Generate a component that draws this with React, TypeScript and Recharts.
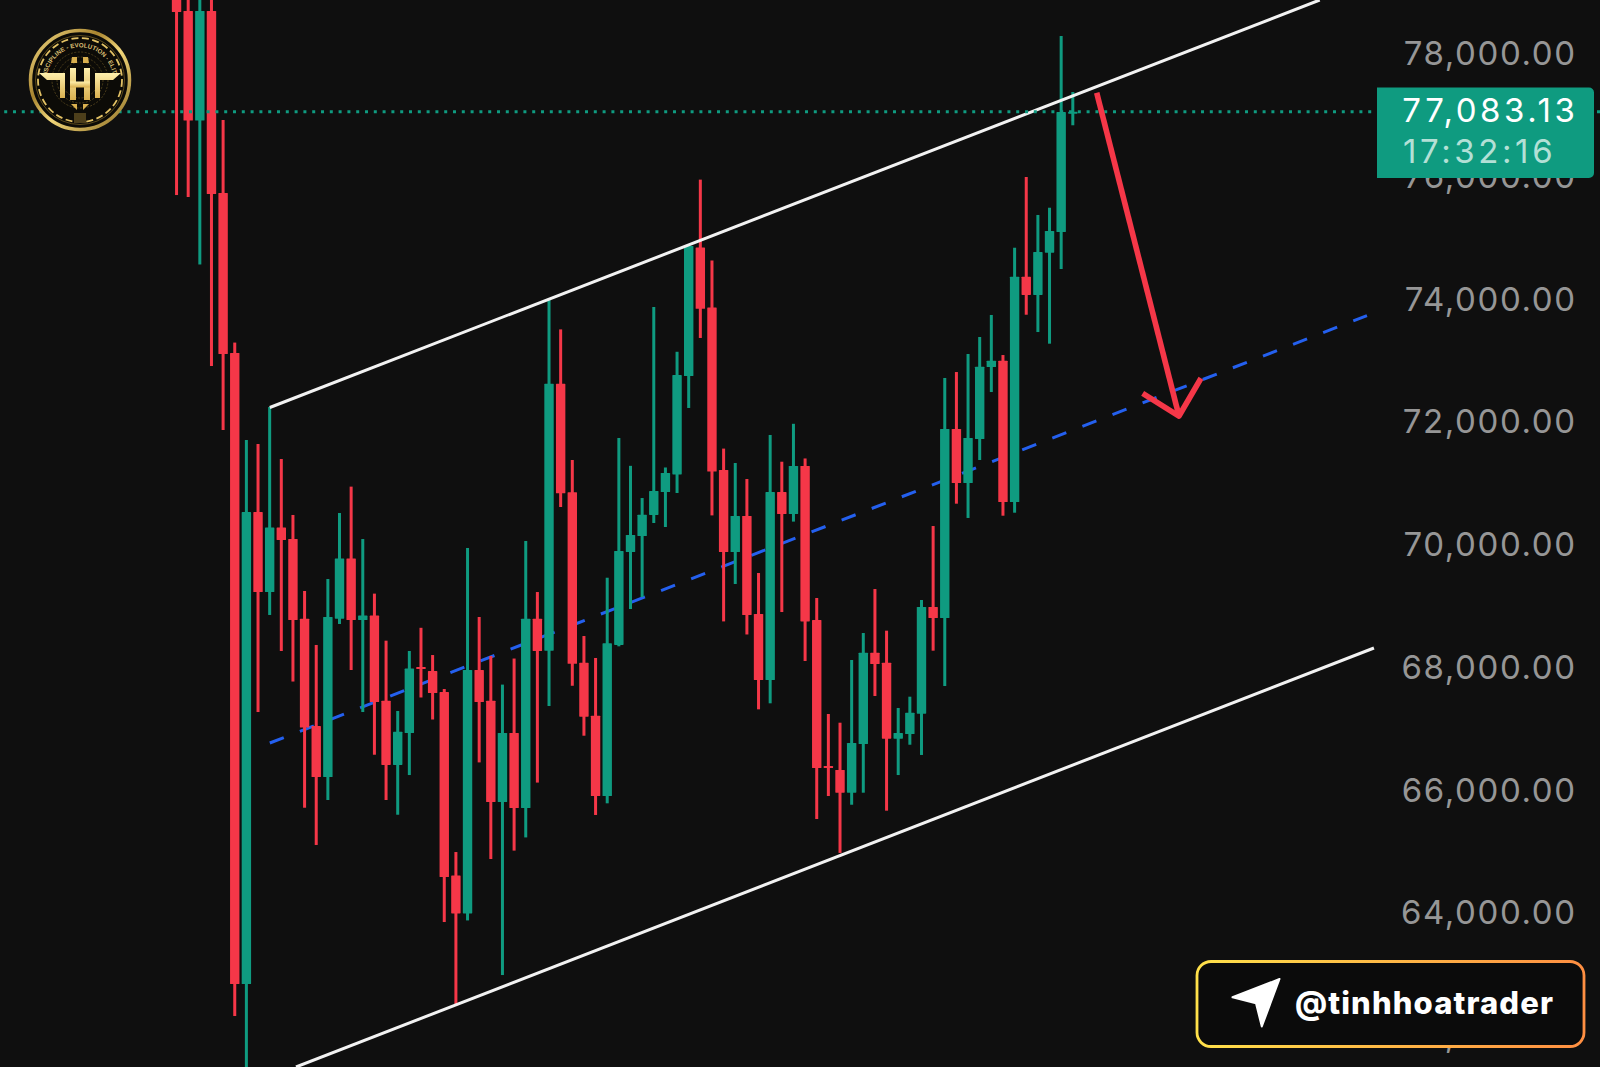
import React from 'react';
import { ComposedChart, Bar, Line, XAxis, YAxis, ReferenceLine } from 'recharts';

const opens = [
  78985, 78724, 76939, 78724, 75757, 73149, 62864, 70557, 69253, 70305,
  70117, 68818, 67069, 66238, 68818, 69801, 68797, 68869, 67481, 66434,
  66955, 68031, 67965, 67623, 64634, 64015, 67982, 67481, 65830, 66955,
  65733, 68818, 68297, 72647, 70879, 68099, 67237, 65928, 68390, 69905,
  70166, 70509, 70883, 71170, 72774, 74869, 73892, 71242, 69905, 70492,
  68895, 67819, 70883, 70525, 71307, 68797, 66417, 66352, 65982, 66776,
  68264, 68101, 66862, 66939, 67270, 69009, 68830, 71910, 71030, 71747,
  72921, 73024, 70720, 74393, 74095, 74784, 75121, 77060,
];
const closes = [
  78707, 76939, 78724, 75741, 73133, 62864, 70557, 69253, 70305, 70101,
  68797, 67045, 66238, 68846, 69801, 68797, 68869, 67460, 66434, 66976,
  68005, 67998, 67607, 64608, 64015, 67982, 67460, 65830, 66955, 65733,
  68818, 68292, 72647, 70862, 68083, 67221, 65928, 68417, 69922, 70183,
  70513, 70900, 71193, 72790, 74893, 73870, 71216, 69905, 70492, 68878,
  67819, 70883, 70525, 71307, 68774, 66385, 66393, 65982, 66792, 68264,
  68080, 66862, 66955, 67286, 69009, 68830, 71910, 71030, 71764, 72926,
  73024, 70720, 74393, 74095, 74795, 75138, 77077, 77083,
];
const highs = [
  79229, 79229, 79229, 79229, 76947, 73319, 71731, 71666, 72269, 71421,
  70509, 69270, 68390, 69465, 70541, 70971, 70117, 69227, 68460, 67314,
  68292, 68670, 68226, 67672, 65015, 69971, 68846, 68210, 67744, 68169,
  70085, 69253, 74033, 73534, 71405, 68536, 68178, 69486, 71764, 71310,
  70785, 73899, 71283, 73169, 74893, 75975, 74657, 71591, 71356, 71095,
  69563, 71813, 71377, 71995, 71430, 69156, 67265, 67123, 68145, 68585,
  69302, 68623, 67363, 67547, 69123, 70329, 72742, 72839, 73133, 73410,
  73769, 73116, 74865, 76018, 75399, 75517, 78316, 77403,
];
const lows = [
  75724, 75692, 74592, 72937, 71894, 62342, 61217, 67297, 68879, 68292,
  67794, 65737, 65130, 65863, 68732, 67982, 67297, 66601, 65863, 65623,
  66270, 67534, 67175, 63874, 62513, 63900, 66476, 64901, 63010, 65038,
  65253, 66147, 67395, 70639, 67725, 66911, 65619, 65809, 68368, 68976,
  69172, 70378, 70313, 70867, 72253, 73394, 70502, 68774, 69384, 68561,
  67341, 67439, 68927, 70401, 68129, 65553, 65928, 65000, 65786, 65982,
  67558, 65689, 66270, 66764, 66597, 68297, 67721, 70693, 70460, 71405,
  72513, 70497, 70546, 73773, 73491, 73301, 74518, 76861,
];

const priceTicks = [62000, 64000, 66000, 68000, 70000, 72000, 74000, 76000, 78000];
const lastPrice = 77083.13;
const upperChannel = [{ i: 8, p: 72261 }, { i: 98.2, p: 78903 }];
const lowerChannel = [{ i: 10.25, p: 61511 }, { i: 102.86, p: 68341 }];
const midChannel = [{ i: 8, p: 66792 }, { i: 102.26, p: 73760 }];
const arrowShaft = [{ i: 79.04, p: 77392 }, { i: 86.11, p: 72122 }];
const arrowHead = [{ i: 82.99, p: 72492 }, { i: 86.11, p: 72122 }, { i: 88.0, p: 72737 }];

const GREEN = '#0f9b80';
const RED = '#f53748';
const BG = '#0f0f0f';
const LABEL_FONT = 33;
const LABEL_SPACING = 3.6;
const TICK_SPACING = 1.6;

const rows = opens.map((o, i) => ({
  i,
  open: o,
  close: closes[i],
  high: highs[i],
  low: lows[i],
  range: [lows[i], highs[i]],
}));

const Candle = (props: any) => {
  const { x, y, width, height, payload } = props;
  const { open, close, high, low } = payload;
  const k = height / (high - low);
  const color = close >= open ? GREEN : RED;
  const top = y + (high - Math.max(open, close)) * k;
  const bodyH = Math.max(Math.abs(open - close) * k, 2);
  const cx = x + width / 2;
  return (
    <g>
      <rect x={cx - 1.5} y={y} width={3} height={height} fill={color} />
      <rect x={cx - 4.7} y={top} width={9.4} height={bodyH} fill={color} rx={0.6} />
    </g>
  );
};

const renderPriceTick = (props: any) => {
  const { y, payload } = props;
  return (
    <text
      x={1575 + TICK_SPACING}
      y={y + 10}
      textAnchor="end"
      fill="#969696"
      fontFamily="Inter, sans-serif"
      fontSize={LABEL_FONT}
      letterSpacing={TICK_SPACING}
    >
      {payload.value.toLocaleString('en-US', { minimumFractionDigits: 2, maximumFractionDigits: 2 })}
    </text>
  );
};

const Overlay = () => (
  <svg
    width={1600}
    height={1067}
    style={{ position: 'absolute', left: 0, top: 0, pointerEvents: 'none' }}
  >
    <defs>
      <linearGradient id="ring" x1="0" y1="0" x2="1" y2="1">
        <stop offset="0" stopColor="#f4dc86" />
        <stop offset="0.35" stopColor="#a8842f" />
        <stop offset="0.55" stopColor="#f2d77a" />
        <stop offset="1" stopColor="#8c6c22" />
      </linearGradient>
      <linearGradient id="gold" x1="0" y1="0" x2="0" y2="1">
        <stop offset="0" stopColor="#fff0ad" />
        <stop offset="1" stopColor="#d9b04f" />
      </linearGradient>
      <linearGradient id="border" x1="0" y1="0" x2="1" y2="0">
        <stop offset="0" stopColor="#ffe14a" />
        <stop offset="1" stopColor="#ff8f42" />
      </linearGradient>
      <path id="logoArc" d="M 47 75 A 33.5 33.5 0 0 1 113 75" fill="none" />
    </defs>

    {/* Logo */}
    <g>
      <circle cx={80} cy={80} r={49.5} fill="#0c0b07" stroke="url(#ring)" strokeWidth={3.5} />
      <circle cx={80} cy={80} r={44.5} fill="none" stroke="#5b4a1c" strokeWidth={1} />
      <circle cx={80} cy={80} r={42} fill="none" stroke="#e2c164" strokeWidth={1.8} strokeDasharray="7 3.5" />
      <circle cx={80} cy={80} r={28} fill="none" stroke="#4d3f1b" strokeWidth={1} strokeDasharray="2 1.5" />
      <circle cx={80} cy={80} r={23} fill="none" stroke="#4d3f1b" strokeWidth={1} strokeDasharray="2 1.5" />
      <circle cx={80} cy={80} r={18} fill="none" stroke="#4d3f1b" strokeWidth={1} strokeDasharray="2 1.5" />
      <text fontFamily="'Liberation Sans Narrow', 'Liberation Sans', sans-serif" fontSize={6.2} fontWeight={700} fill="#d8bd72">
        <textPath href="#logoArc" startOffset="50%" textAnchor="middle">
          DISCIPLINE - EVOLUTION - ELITE
        </textPath>
      </text>
      <polygon points="39,73 65,73 65,98 60,98 60,80 47,80" fill="url(#gold)" />
      <polygon points="121,73 95,73 95,98 100,98 100,80 113,80" fill="url(#gold)" />
      <rect x={70} y={68} width={6} height={32} fill="url(#gold)" />
      <rect x={84} y={68} width={6} height={32} fill="url(#gold)" />
      <rect x={70} y={81.5} width={20} height={6} fill="url(#gold)" />
      <polygon points="72,57 77,57 77,63 71,63" fill="#d9b04f" />
      <polygon points="83,57 88,57 89,63 83,63" fill="#d9b04f" />
      <polygon points="71,104 77,104 77,110" fill="#d9b04f" />
      <polygon points="83,104 89,104 83,110" fill="#d9b04f" />
      <rect x={74} y={113} width={12} height={10} fill="#4d3f1b" />
    </g>

    {/* Last price tag */}
    <path d="M1377 87.5 H1589 a5 5 0 0 1 5 5 V173 a5 5 0 0 1 -5 5 H1377 Z" fill={GREEN} />
    <text
      x={1575 + LABEL_SPACING}
      y={121.5}
      textAnchor="end"
      fill="#ffffff"
      fontFamily="Inter, sans-serif"
      fontSize={LABEL_FONT}
      letterSpacing={LABEL_SPACING}
    >
      77,083.13
    </text>
    <text
      x={1403}
      y={163}
      fill="#b3e0d6"
      fontFamily="Inter, sans-serif"
      fontSize={LABEL_FONT}
      letterSpacing={LABEL_SPACING}
    >
      17:32:16
    </text>

    {/* Handle badge */}
    <rect x={1197} y={961.5} width={387} height={85} rx={14} fill="#0b0b0b" stroke="url(#border)" strokeWidth={2.8} />
    <path
      d="M1279.5 979 L1232.5 997.3 L1256 1003.3 L1261.8 1026.5 Z"
      fill="#ffffff"
      stroke="#ffffff"
      strokeWidth={2}
      strokeLinejoin="round"
    />
    <text
      x={1295}
      y={1014}
      fill="#ffffff"
      fontFamily="Inter, sans-serif"
      fontWeight={800}
      fontSize={31}
      textLength={258}
      lengthAdjust="spacing"
    >
      @tinhhoatrader
    </text>
  </svg>
);

export default function App() {
  return (
    <div style={{ position: 'absolute', left: 0, top: 0, width: 1600, height: 1067, background: BG, overflow: 'hidden' }}>
      <ComposedChart
        width={1600}
        height={1067}
        data={rows}
        margin={{ top: 0, right: 0, bottom: 0, left: 0 }}
      >
        <XAxis dataKey="i" type="number" domain={[-15.18, 122.28]} allowDataOverflow hide />
        <YAxis
          orientation="right"
          mirror
          width={60}
          type="number"
          domain={[61511, 78903]}
          allowDataOverflow
          ticks={priceTicks}
          interval={0}
          axisLine={false}
          tickLine={false}
          tick={renderPriceTick}
        />
        <Line
          data={midChannel}
          dataKey="p"
          stroke="#2460ef"
          strokeWidth={3}
          strokeDasharray="15 17.3"
          dot={false}
          activeDot={false}
          isAnimationActive={false}
          zIndex={100}
        />
        <Bar dataKey="range" barSize={9} shape={<Candle />} isAnimationActive={false} zIndex={200} />
        <Line
          data={upperChannel}
          dataKey="p"
          stroke="#f2f2f2"
          strokeWidth={3}
          dot={false}
          activeDot={false}
          isAnimationActive={false}
          zIndex={300}
        />
        <Line
          data={lowerChannel}
          dataKey="p"
          stroke="#f2f2f2"
          strokeWidth={3}
          dot={false}
          activeDot={false}
          isAnimationActive={false}
          zIndex={300}
        />
        <ReferenceLine y={lastPrice} stroke={GREEN} strokeWidth={3} strokeDasharray="3 5.8" zIndex={350} />
        <Line
          data={arrowShaft}
          dataKey="p"
          stroke={RED}
          strokeWidth={5.6}
          dot={false}
          activeDot={false}
          isAnimationActive={false}
          zIndex={400}
        />
        <Line
          data={arrowHead}
          dataKey="p"
          stroke={RED}
          strokeWidth={5.6}
          strokeLinejoin="round"
          dot={false}
          activeDot={false}
          isAnimationActive={false}
          zIndex={400}
        />
      </ComposedChart>
      <Overlay />
    </div>
  );
}
